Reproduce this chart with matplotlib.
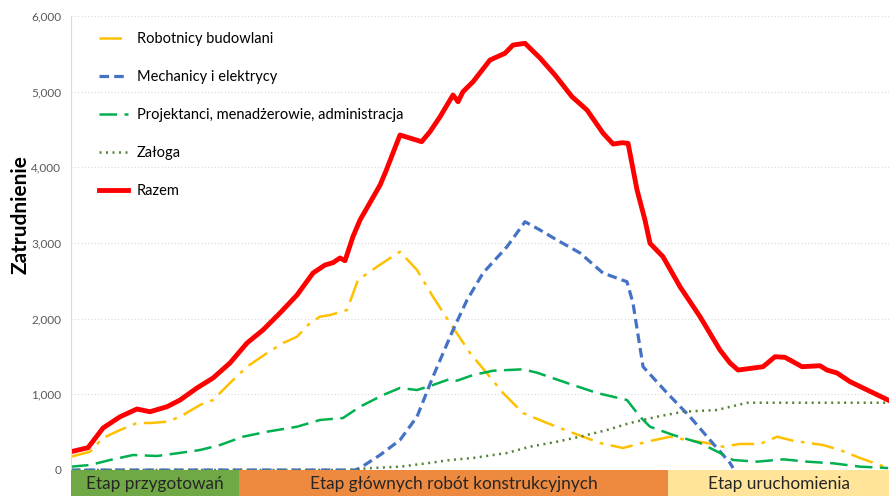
import matplotlib
matplotlib.use("Agg")
import matplotlib.pyplot as plt
from matplotlib.ticker import FuncFormatter

plt.rcParams['font.family'] = ['Lato', 'DejaVu Sans']

# time axis in months from project start
razem_x = [0.0, 1.25, 2.35, 3.6, 4.84, 5.79, 7.04, 8.0, 9.24, 10.42, 11.66, 12.91, 14.08, 15.33,
           16.58, 17.75, 18.63, 19.22, 19.73, 20.1, 20.68, 21.2, 22.67, 23.1, 24.13, 25.72, 26.33,
           27.07, 28.02, 28.39, 28.75, 29.49, 30.73, 31.83, 32.42, 33.3, 34.4, 35.5, 36.75, 37.85,
           39.02, 39.76, 40.42, 40.86, 41.52, 42.1, 42.47, 43.42, 44.67, 46.14, 47.6, 48.34, 48.93,
           50.76, 51.64, 52.37, 52.96, 53.62, 54.94, 55.45, 56.19, 57.14, 59.93]
razem_y = [242, 295, 555, 704, 806, 770, 836, 925, 1084, 1216, 1414, 1678, 1850, 2075,
           2313, 2603, 2709, 2740, 2802, 2766, 3083, 3304, 3766, 3950, 4427, 4339, 4471,
           4669, 4956, 4867, 4999, 5131, 5418, 5507, 5616, 5639, 5445, 5220, 4933, 4757,
           4453, 4308, 4325, 4317, 3700, 3304, 2996, 2819, 2422, 2026, 1586, 1414, 1321,
           1365, 1497, 1489, 1431, 1365, 1378, 1321, 1282, 1167, 925]

robot_x = [0.0, 1.39, 2.35, 3.6, 4.84, 5.79, 7.04, 8.0, 9.46, 10.42, 11.66, 12.91, 14.38, 15.55,
           16.58, 17.53, 18.26, 19.0, 20.24, 21.05, 22.45, 24.13, 25.38, 26.55, 27.8, 29.27,
           30.49, 31.69, 33.15, 34.92, 36.82, 38.8, 40.49, 42.25, 43.94, 45.18, 46.65, 47.82,
           49.07, 50.54, 51.79, 52.96, 55.16, 56.41, 57.87, 59.93]
robot_y = [176, 242, 423, 529, 621, 621, 638, 704, 859, 925, 1150, 1365, 1546, 1678,
           1762, 1943, 2026, 2048, 2114, 2511, 2687, 2885, 2643, 2290, 1943, 1546,
           1282, 1018, 753, 621, 489, 357, 291, 374, 440, 396, 357, 308,
           344, 344, 440, 387, 330, 264, 159, 26]

mech_x = [0.0, 20.83, 21.2, 22.67, 24.13, 25.38, 26.55, 28.02, 29.05, 30.22, 31.98, 33.3,
          34.4, 35.65, 37.34, 39.02, 40.78, 41.22, 41.96, 43.72, 45.4, 46.87, 48.34, 48.56]
mech_y = [0, 0, 26, 198, 396, 704, 1233, 1850, 2247, 2603, 2951, 3281,
          3172, 3039, 2868, 2603, 2488, 2207, 1365, 1018, 704, 396, 93, 26]

proj_x = [0.0, 1.39, 2.86, 4.55, 6.31, 7.78, 9.46, 10.93, 12.62, 14.38, 16.58, 18.26, 19.95,
          21.2, 22.89, 24.13, 25.38, 26.55, 27.8, 28.31, 29.49, 30.95, 33.15, 34.18, 36.38,
          38.58, 40.78, 41.74, 42.47, 44.16, 46.14, 47.6, 48.56, 50.32, 52.23, 53.99, 55.89,
          57.87, 59.93]
proj_y = [44, 66, 132, 198, 185, 221, 264, 330, 440, 506, 572, 661, 687,
          837, 991, 1084, 1057, 1123, 1203, 1180, 1255, 1312, 1331, 1286, 1150,
          1018, 925, 704, 572, 463, 357, 225, 132, 110, 141, 110, 89,
          44, 26]

zaloga_x = [0.0, 20.46, 21.71, 24.13, 26.11, 27.8, 29.49, 31.98, 33.67, 35.65, 37.34, 39.32,
            41.0, 42.98, 44.89, 47.38, 49.59, 51.49, 59.93]
zaloga_y = [0, 0, 22, 44, 89, 132, 159, 225, 308, 374, 440, 529,
            621, 704, 770, 793, 889, 889, 889]

etapy = ["Etap przygotowań", "Etap głównych robót konstrukcyjnych", "Etap uruchomienia"]
etapy_granice = [0, 12.3, 43.8, 60]
etapy_kolory = ["#70A845", "#ED8A3F", "#FFE49A"]

fig = plt.figure(figsize=(8.89, 4.96), dpi=100)
ax = fig.add_axes([71 / 889, 26 / 496, 818 / 889, 454 / 496])

ax.plot(robot_x, robot_y, color="#FFC000", lw=1.8, dashes=(9, 3, 1.5, 3),
        label="Robotnicy budowlani")
ax.plot(mech_x, mech_y, color="#4472C4", lw=2.3, dashes=(3, 1.6),
        label="Mechanicy i elektrycy")
ax.plot(proj_x, proj_y, color="#00B050", lw=1.8, dashes=(7, 3),
        label="Projektanci, menadżerowie, administracja")
ax.plot(zaloga_x, zaloga_y, color="#548235", lw=1.8, dashes=(0.8, 1.8),
        label="Załoga")
ax.plot(razem_x, razem_y, color="#FF0000", lw=3.5, solid_joinstyle="round",
        label="Razem")

ax.set_xlim(0, 60)
ax.set_ylim(0, 6000)
ax.set_yticks(range(0, 6001, 1000))
ax.yaxis.set_major_formatter(FuncFormatter(lambda v, p: f"{int(v):,}"))
ax.tick_params(axis="y", labelsize=8.5, labelcolor="#595959", length=0, pad=7)
ax.set_xticks([])
ax.grid(axis="y", color="#D9D9D9", linestyle=(0, (1, 2)), lw=0.8)
for s in ["top", "right", "bottom"]:
    ax.spines[s].set_visible(False)
ax.spines["left"].set_color("#D9D9D9")
ax.set_ylabel("Zatrudnienie", fontsize=15, fontweight="bold")
ax.yaxis.set_label_coords(-0.049, 0.563)

ax.legend(loc="upper left", bbox_to_anchor=(0.018, 0.993), frameon=False, fontsize=10.5,
          handlelength=2.0, labelspacing=1.64, handletextpad=0.6)

bx = fig.add_axes([71 / 889, 0, 818 / 889, 26 / 496])
for i in range(len(etapy)):
    x0, x1 = etapy_granice[i], etapy_granice[i + 1]
    bx.axvspan(x0, x1, color=etapy_kolory[i], lw=0)
    bx.text((x0 + x1) / 2, 0.45, etapy[i], ha="center", va="center", fontsize=12.4,
            color="#262626")
bx.set_xlim(0, 60)
bx.set_ylim(0, 1)
bx.axis("off")

fig.savefig("out.png", dpi=100)
